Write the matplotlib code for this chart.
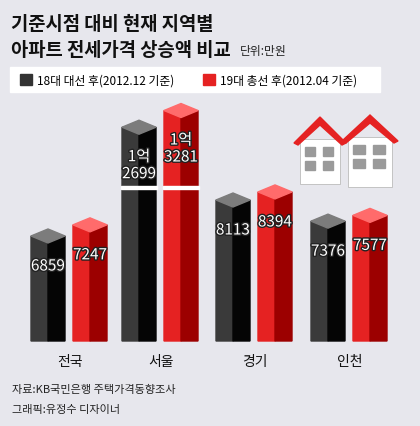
import matplotlib.pyplot as plt
from matplotlib.patches import Polygon, Rectangle
import matplotlib.patheffects as pe

plt.rcParams['font.family'] = ['Noto Sans CJK KR', 'DejaVu Sans']

# data (만원)
regions = ['전국', '서울', '경기', '인천']
after_election = [6859, 12699, 8113, 7376]   # 18대 대선 후
after_general = [7247, 13281, 8394, 7577]    # 19대 총선 후
labels_a = ['6859', '1억\n2699', '8113', '7376']
labels_b = ['7247', '1억\n3281', '8394', '7577']

# scale: value -> pixel row
BASE_PX, BASE_VAL, PX_PER = 342, 3200, 0.0287
BREAK_AT, BREAK_CUT = 9800, 2050

def ypx(v):
    if v > BREAK_AT:
        v -= BREAK_CUT
    return BASE_PX - (v - BASE_VAL) * PX_PER

fig = plt.figure(figsize=(4.2, 4.27), dpi=100)
ax = fig.add_axes([0, 0, 1, 1])
ax.set_xlim(0, 420)
ax.set_ylim(427, 0)
ax.axis('off')
ax.add_patch(Rectangle((0, 0), 420, 427, color='#e7e7ed', zorder=0))

ax.text(11, 25, '기준시점 대비 현재 지역별', fontsize=13.5, fontweight='bold', va='center', color='#111')
ax.text(11, 50, '아파트 전세가격 상승액 비교', fontsize=13.5, fontweight='bold', va='center', color='#111')
ax.text(240, 51, '단위:만원', fontsize=8.5, va='center', color='#222')

# legend
ax.add_patch(Rectangle((10, 68), 370, 25, color='white', zorder=1))
ax.add_patch(Rectangle((20, 75), 12, 11, color='#333333', zorder=2))
ax.text(37, 81, '18대 대선 후(2012.12 기준)', fontsize=8.5, va='center', zorder=2)
ax.add_patch(Rectangle((203, 75), 12, 11, color='#e52222', zorder=2))
ax.text(220, 81, '19대 총선 후(2012.04 기준)', fontsize=8.5, va='center', zorder=2)

# houses
def house(x, y, w, h):
    ax.add_patch(Rectangle((x, y), w, h, color='white', ec='#bbbbbb', lw=0.6, zorder=2))
    ax.add_patch(Polygon([(x - 6, y + 4), (x + w / 2, y - 22), (x + w + 6, y + 4),
                          (x + w + 2, y + 6), (x + w / 2, y - 14), (x - 2, y + 6)],
                         color='#e52222', zorder=3))
    for i in range(2):
        for j in range(2):
            ax.add_patch(Rectangle((x + 5 + i * (w / 2 - 2), y + 8 + j * 14), w / 2 - 10, 9,
                                   color='#9a9a9a', zorder=3))
house(300, 140, 40, 45)
house(348, 138, 44, 50)

colors_a = ('#3a3a3a', '#050505', '#7c7c7c')
colors_b = ('#e52222', '#9c0000', '#ff6b6b')

def bar3d(x0, w, v, cols, label, seoul):
    top = ypx(v)
    xm = x0 + w / 2
    d = 7
    ax.add_patch(Polygon([(x0, BASE_PX), (x0, top), (xm, top + d), (xm, BASE_PX)], color=cols[0], zorder=4))
    ax.add_patch(Polygon([(xm, BASE_PX), (xm, top + d), (x0 + w, top), (x0 + w, BASE_PX)], color=cols[1], zorder=4))
    ax.add_patch(Polygon([(x0, top), (xm, top - d), (x0 + w, top), (xm, top + d)], color=cols[2], zorder=4))
    if seoul:
        ax.add_patch(Rectangle((x0 - 1, 187), w + 2, 3, color='white', zorder=5))
    ty = top + 38 if seoul else top + 30
    ax.text(xm, ty, label, ha='center', va='center', color='white', fontsize=11,
            linespacing=1.0, zorder=6,
            path_effects=[pe.withStroke(linewidth=2, foreground='#222')])

centers = [70, 161, 255, 350]
for i, c in enumerate(centers):
    bar3d(c - 39, 34, after_election[i], colors_a, labels_a[i], i == 1)
    bar3d(c + 3, 34, after_general[i], colors_b, labels_b[i], i == 1)
    ax.text(c, 362, regions[i], ha='center', va='center', fontsize=10, color='#111')

ax.text(12, 390, '자료:KB국민은행 주택가격동향조사', fontsize=8, va='center', color='#222')
ax.text(12, 410, '그래픽:유정수 디자이너', fontsize=8, va='center', color='#222')

fig.savefig('out.png', dpi=100)
